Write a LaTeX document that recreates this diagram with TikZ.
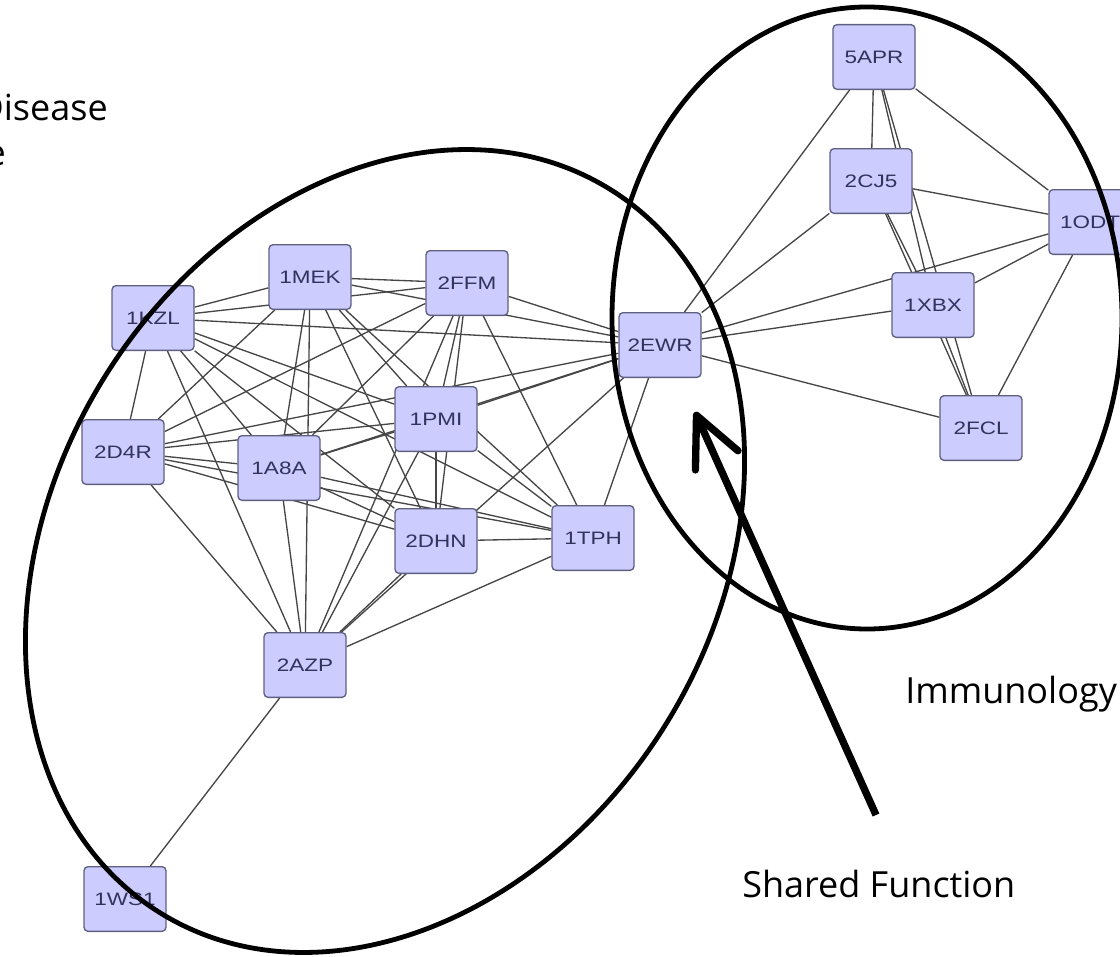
\documentclass[tikz,border=0pt]{standalone}
\usepackage{fontspec}
\setmainfont{Open Sans}
\newfontfamily\protfont[FakeStretch=1.25]{Liberation Sans}
\usetikzlibrary{arrows.meta, backgrounds}

\tikzset{
  prot/.style={draw=nodeline, line width=1pt, fill=nodefill, rounded corners=3pt,
    minimum width=61.5pt, minimum height=48.5pt, inner sep=0pt,
    font=\protfont\fontsize{13.5}{13.5}\selectfont, text=nodetext},
  link/.style={draw=edgegray, line width=1pt},
  group/.style={draw=black, line width=3.6pt},
  caption/.style={font=\fontsize{27}{32}\selectfont, inner sep=0pt}
}

\begin{document}
\begin{tikzpicture}[x=0.75pt, y=-0.75pt]

    % Цвета
    \definecolor{nodefill}{RGB}{204,204,255}
    \definecolor{nodeline}{RGB}{95,95,130}
    \definecolor{nodetext}{RGB}{50,50,90}
    \definecolor{edgegray}{RGB}{70,70,70}

    \useasboundingbox (0,0) rectangle (1120,956);

    % Белки (левая группа)
    \node[prot] (p1KZL) at (153,318) {1KZL};
    \node[prot] (p1MEK) at (310,277) {1MEK};
    \node[prot] (p2FFM) at (467,283) {2FFM};
    \node[prot] (p2D4R) at (123,452) {2D4R};
    \node[prot] (p1A8A) at (279,468) {1A8A};
    \node[prot] (p1PMI) at (436,419) {1PMI};
    \node[prot] (p2DHN) at (436,541) {2DHN};
    \node[prot] (p1TPH) at (593,538) {1TPH};
    \node[prot] (p2AZP) at (305,665) {2AZP};
    \node[prot] (p1WS1) at (125,899) {1WS1};

    % Белки (правая группа)
    \node[prot] (p2EWR) at (660,345) {2EWR};
    \node[prot] (p5APR) at (874,57) {5APR};
    \node[prot] (p2CJ5) at (871,181) {2CJ5};
    \node[prot] (p1ODT) at (1090,222) {1ODT};
    \node[prot] (p1XBX) at (933,305) {1XBX};
    \node[prot] (p2FCL) at (981,428) {2FCL};

    % Связи
    \begin{scope}[on background layer]
        \foreach \a/\b in {p1KZL/p1MEK, p1KZL/p2FFM, p1KZL/p2EWR, p1KZL/p2D4R, p1KZL/p1A8A,
                p1KZL/p1PMI, p1KZL/p2DHN, p1KZL/p1TPH, p1KZL/p2AZP,
                p1MEK/p2FFM, p1MEK/p2EWR, p1MEK/p2D4R, p1MEK/p1A8A, p1MEK/p2AZP,
                p1MEK/p1PMI, p1MEK/p2DHN, p1MEK/p1TPH,
                p2FFM/p2D4R, p2FFM/p1A8A, p2FFM/p1PMI, p2FFM/p2DHN, p2FFM/p2AZP,
                p2FFM/p1TPH, p2FFM/p2EWR,
                p2D4R/p1A8A, p2D4R/p1PMI, p2D4R/p2DHN, p2D4R/p1TPH, p2D4R/p2AZP, p2D4R/p2EWR,
                p1A8A/p1PMI, p1A8A/p2DHN, p1A8A/p1TPH, p1A8A/p2AZP, p1A8A/p2EWR,
                p1PMI/p2DHN, p1PMI/p2AZP, p1PMI/p1TPH, p1PMI/p2EWR,
                p2DHN/p1TPH, p2DHN/p2AZP, p1TPH/p2AZP, p1TPH/p2EWR,
                p2AZP/p2EWR, p2AZP/p1WS1,
                p5APR/p2CJ5, p5APR/p1XBX, p5APR/p2FCL, p5APR/p1ODT, p5APR/p2EWR,
                p2CJ5/p1ODT, p2CJ5/p2EWR, p2CJ5/p2FCL, p2CJ5/p1XBX,
                p1ODT/p2EWR, p1ODT/p1XBX, p1ODT/p2FCL,
                p1XBX/p2EWR, p1XBX/p2FCL, p2EWR/p2FCL}
            \draw[link] (\a) -- (\b);
    \end{scope}

    % Эллипсы групп
    \draw[group, rotate around={-32:(385,551)}] (385,551) ellipse [x radius=330, y radius=426];
    \draw[group] (867,318) ellipse [x radius=255, y radius=311];

    % Стрелка
    \coordinate (tail) at (876,815);
    \coordinate (tip) at (695,412);
    \draw[line width=5.5pt, -{Straight Barb[length=37pt, width=35pt, round]}] (tail) -- (tip);

    % Подписи
    \node[caption, anchor=base west] (immuno) at (905,703) {Immunology};
    \node[caption, anchor=base west] (shared) at (742,897) {Shared Function};
    \node[caption, anchor=base east] (disease) at (108,120) {Disease};
    \node[caption, anchor=base east] (disease2) at (6,165) {e};

\end{tikzpicture}
\end{document}
